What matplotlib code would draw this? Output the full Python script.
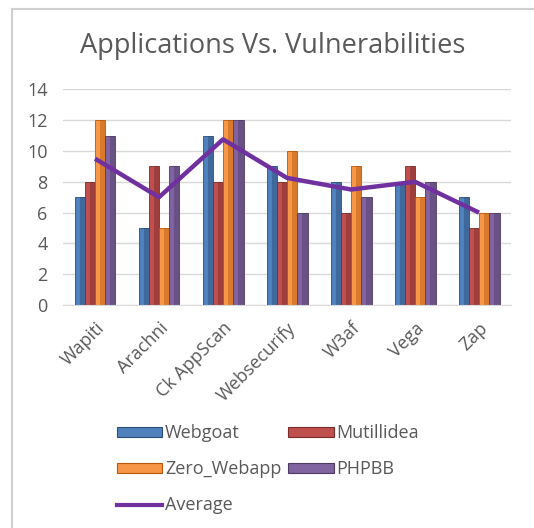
import numpy as np
import matplotlib
matplotlib.use("Agg")
from matplotlib import pyplot as plt
from matplotlib.patches import Patch
from matplotlib.lines import Line2D

# data
apps = ["Wapiti", "Arachni", "Ck AppScan", "Websecurify", "W3af", "Vega", "Zap"]
webgoat = [7, 5, 11, 9, 8, 8, 7]
mutillidea = [8, 9, 8, 8, 6, 9, 5]
zero_webapp = [12, 5, 12, 10, 9, 7, 6]
phpbb = [11, 9, 12, 6, 7, 8, 6]
average = [9.5, 7, 10.75, 8.25, 7.5, 8, 6]

series_names = ["Webgoat", "Mutillidea", "Zero_Webapp", "PHPBB"]
series = [webgoat, mutillidea, zero_webapp, phpbb]
colors = ["#4F81BD", "#C0504D", "#F79646", "#8064A2"]
dark = ["#2C4D75", "#772C2A", "#B65708", "#4D3B62"]
line_color = "#7030A0"
txt = "#595959"

plt.rcParams['font.family'] = ['Open Sans', 'DejaVu Sans']

fig = plt.figure(figsize=(5.34, 5.28), dpi=100)
ax = fig.add_axes([0.118, 0.422, 0.839, 0.409])

x = np.arange(len(apps))
w = 0.16
for i, vals in enumerate(series):
    pos = x + (i - 1.5) * w
    ax.bar(pos, vals, width=w, color=colors[i], edgecolor=dark[i], linewidth=0.6, zorder=2)
    # darker right side for the 3D look
    ax.bar(pos + w * 0.25, vals, width=w * 0.5, color=dark[i], alpha=0.45, linewidth=0, zorder=2)

ax.plot(x, average, color=line_color, linewidth=3.2, zorder=3, solid_capstyle="butt")

ax.set_ylim(0, 14)
ax.set_yticks(range(0, 15, 2))
ax.set_xlim(-0.5, len(apps) - 0.5)
ax.set_xticks(x)
ax.set_xticklabels(apps, rotation=45, ha="right", rotation_mode="anchor")
ax.grid(axis="y", color="#D9D9D9", linewidth=1, zorder=0)
ax.set_axisbelow(True)
for s in ["top", "right", "left"]:
    ax.spines[s].set_visible(False)
ax.spines["bottom"].set_color("#D9D9D9")
ax.tick_params(axis="both", length=0, labelsize=13, labelcolor=txt)
ax.tick_params(axis="y", pad=11)
ax.tick_params(axis="x", pad=10)

fig.text(0.51, 0.913, "Applications Vs. Vulnerabilities", ha="center", va="center",
         fontsize=19.5, color=txt)

# legend, order so that columns fill row by row like the reference
h = [Patch(facecolor=c, edgecolor=d, linewidth=0.8) for c, d in zip(colors, dark)]
avg_h = Line2D([0], [0], color=line_color, linewidth=3)
handles = [h[0], h[2], avg_h, h[1], h[3]]
labels = [series_names[0], series_names[2], "Average", series_names[1], series_names[3]]
fig.legend(handles, labels, loc="upper left", bbox_to_anchor=(0.205, 0.21), ncol=2,
           frameon=False, fontsize=13, labelcolor=txt, handlelength=2.5, handleheight=0.45,
           handletextpad=0.17, columnspacing=0.4, labelspacing=1.0, borderaxespad=0,
           bbox_transform=fig.transFigure)

# outer frame (top and left edges visible)
fig.add_artist(Line2D([12 / 534, 1], [1 - 9 / 528, 1 - 9 / 528], color="#D0D0D0", linewidth=1.5,
                      transform=fig.transFigure))
fig.add_artist(Line2D([12 / 534, 12 / 534], [0, 1 - 9 / 528], color="#D0D0D0", linewidth=1.5,
                      transform=fig.transFigure))

fig.savefig("out.png", dpi=100)
